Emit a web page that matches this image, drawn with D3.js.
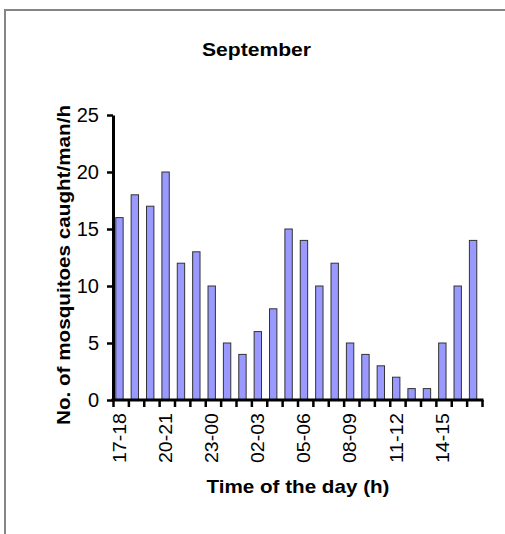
<!DOCTYPE html>
<html><head><meta charset="utf-8">
<script src="https://cdn.jsdelivr.net/npm/d3@7"></script>
<style>body{margin:0;background:#fff}svg{display:block}</style>
</head><body>
<script>
const categories = ["17-18","18-19","19-20","20-21","21-22","22-23","23-00","00-01","01-02","02-03","03-04","04-05","05-06","06-07","07-08","08-09","09-10","10-11","11-12","12-13","13-14","14-15","15-16","16-17"];
const values = [16,18,17,20,12,13,10,5,4,6,8,15,14,10,12,5,4,3,2,1,1,5,10,14];
const yTicks = [0,5,10,15,20,25];
const labelledCats = ["17-18","20-21","23-00","02-03","05-06","08-09","11-12","14-15"];
const title = "September";
const xTitle = "Time of the day (h)";
const yTitle = "No. of mosquitoes caught/man/h";

const W = 505, H = 534;
const svg = d3.select("body").append("svg").attr("width", W).attr("height", H);
const font = "'Liberation Sans', Arial, sans-serif";

// frame
svg.append("path").attr("d", `M5,${H} L5,10 L${W},10`).attr("fill","none").attr("stroke","#858585").attr("stroke-width",2);

const x0 = 113, x1 = 482, yBase = 400, yTop = 115;
const x = d3.scaleBand().domain(categories).range([x0, x1]).padding(0);
const xLin = d3.scaleLinear().domain([0, categories.length]).range([x0, x1]);
const y = d3.scaleLinear().domain([0, 25]).range([yBase, yTop]);

// bars
svg.append("g").selectAll("rect").data(values).join("rect")
  .attr("x", (d,i) => x(categories[i]) + x.step()*0.18)
  .attr("width", x.step()*0.48)
  .attr("y", d => y(d))
  .attr("height", d => y(0) - y(d))
  .attr("fill", "#9999ff").attr("stroke", "#333").attr("stroke-width", 1);

// y axis
const gy = svg.append("g").attr("transform", `translate(${x0},0)`)
  .call(d3.axisLeft(y).tickValues(yTicks).tickSize(6).tickSizeOuter(0).tickPadding(8));
gy.select(".domain").attr("stroke","#000").attr("stroke-width",3);
gy.selectAll(".tick line").attr("stroke","#000").attr("stroke-width",2.5);
gy.selectAll(".tick text").attr("font-family", font).attr("font-size", 20).attr("fill","#000");

// x axis ticks at category boundaries
const gx = svg.append("g").attr("transform", `translate(0,${yBase})`)
  .call(d3.axisBottom(xLin).tickValues(d3.range(categories.length+1)).tickFormat("").tickSize(7).tickSizeOuter(0));
gx.select(".domain").attr("stroke","#000").attr("stroke-width",3).attr("d", `M${x0-1.5},0H${x1+1.5}`);
gx.selectAll(".tick line").attr("stroke","#000").attr("stroke-width",2.5);

// x labels
const gl = svg.append("g").attr("transform", `translate(-1.5,${yBase})`)
  .call(d3.axisBottom(x).tickValues(labelledCats).tickSize(0).tickPadding(0));
gl.select(".domain").remove();
gl.selectAll(".tick text")
  .attr("font-family", font).attr("font-size", 19).attr("fill","#000")
  .attr("transform", "translate(0,13) rotate(-90)")
  .attr("text-anchor", "end").attr("x", 0).attr("y", 0).attr("dy", "0.35em")
  .attr("textLength", 50).attr("lengthAdjust", "spacingAndGlyphs");

// titles
svg.append("text").attr("x", 256.5).attr("y", 56).attr("text-anchor","middle")
  .attr("font-family", font).attr("font-weight","bold").attr("font-size", 19)
  .attr("textLength", 109).attr("lengthAdjust","spacingAndGlyphs").text(title);
svg.append("text").attr("x", 298).attr("y", 493).attr("text-anchor","middle")
  .attr("font-family", font).attr("font-weight","bold").attr("font-size", 19)
  .attr("textLength", 183).attr("lengthAdjust","spacingAndGlyphs").text(xTitle);
svg.append("text").attr("transform", "translate(70,265) rotate(-90)").attr("text-anchor","middle")
  .attr("font-family", font).attr("font-weight","bold").attr("font-size", 19)
  .attr("textLength", 320).attr("lengthAdjust","spacingAndGlyphs").text(yTitle);
</script>
</body></html>
